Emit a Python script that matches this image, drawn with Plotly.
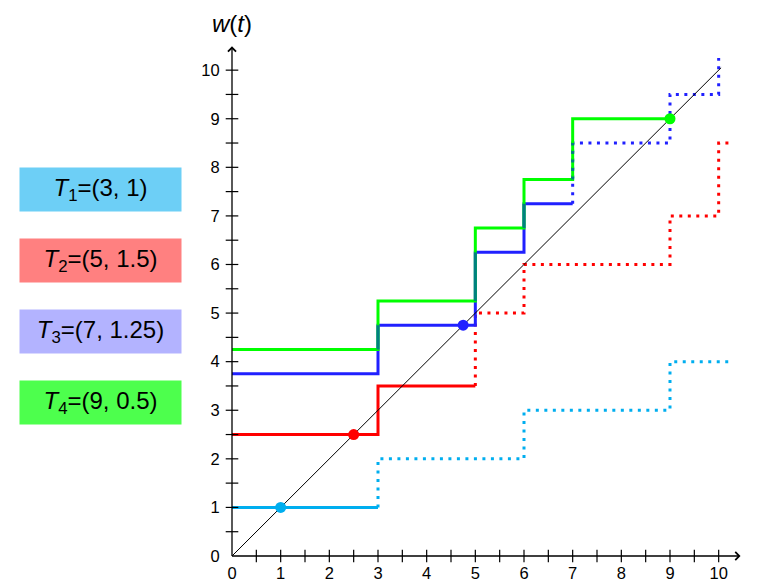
import plotly.graph_objects as go

# ---------------- data ----------------
# step functions (hv shape: level y[i] holds from x[i] to x[i+1])
t1_solid_x = [0, 3]
t1_solid_y = [1, 1]
t1_dot_x = [3, 3, 6, 9, 10.3]
t1_dot_y = [1, 2, 3, 4, 4]

t2_solid_x = [0, 3, 5]
t2_solid_y = [2.5, 3.5, 3.5]
t2_dot_x = [5, 5, 6, 9, 10, 10.3]
t2_dot_y = [3.5, 5, 6, 7, 8.5, 8.5]

t3_solid_x = [0, 3, 5, 6, 7]
t3_solid_y = [3.75, 4.75, 6.25, 7.25, 7.25]
t3_dot_x = [7, 7, 9, 10]
t3_dot_y = [7.25, 8.5, 9.5, 10.25]

t4_solid_x = [0, 3, 5, 6, 7, 9]
t4_solid_y = [4.25, 5.25, 6.75, 7.75, 9, 9]

# response-time points
pt_x = [1, 2.5, 4.75, 9]
pt_y = [1, 2.5, 4.75, 9]

diag_x = [0, 10.05]
diag_y = [0, 10.05]

legend_labels = ["<i>T</i><sub>1</sub>=(3, 1)", "<i>T</i><sub>2</sub>=(5, 1.5)",
                 "<i>T</i><sub>3</sub>=(7, 1.25)", "<i>T</i><sub>4</sub>=(9, 0.5)"]

tick_vals = list(range(0, 11))
tick_text = [str(v) for v in tick_vals]
minor_vals = [v / 2 for v in range(1, 21)]

# ---------------- styles ----------------
C1, C2, C3, C4 = "#00aeef", "#ff0000", "#2020ff", "#00ff00"
TEAL = "#008080"
BOX = ["#6dcff6", "#ff8080", "#b3b3ff", "#4dff4d"]
LW = 3
DOT = "3px,5.5px"
FONT = "Liberation Sans, Arial, sans-serif"

XMAX, YMAX = 10.5, 10.6
X_TIP, Y_TIP = 10.47, 10.51
W, H = 763, 579
L, T = 224, 33
PW, PH = 511, 515
R, B = W - L - PW, H - T - PH

fig = go.Figure()


def step(x, y, color, dash=None):
    fig.add_trace(go.Scatter(x=x, y=y, mode="lines", line_shape="hv",
                             line=dict(color=color, width=LW, dash=dash),
                             hoverinfo="skip", showlegend=False))


step(t1_solid_x, t1_solid_y, C1)
step(t1_dot_x, t1_dot_y, C1, DOT)
step(t2_solid_x, t2_solid_y, C2)
step(t2_dot_x, t2_dot_y, C2, DOT)
step(t3_solid_x, t3_solid_y, C3)
step(t3_dot_x, t3_dot_y, C3, DOT)
step(t4_solid_x, t4_solid_y, C4)


# overlap of blue & green vertical jumps -> teal
def vsegs(xs, ys):
    return [(xs[i + 1], ys[i], ys[i + 1]) for i in range(len(xs) - 1) if ys[i + 1] != ys[i]]


green_v = vsegs(t4_solid_x, t4_solid_y)
for (bx, by, dash) in [(t3_solid_x, t3_solid_y, None), (t3_dot_x, t3_dot_y, DOT)]:
    ox, oy = [], []
    for (x, a, b) in vsegs(bx, by):
        for (gx, c, d) in green_v:
            if gx == x:
                lo = max(min(a, b), min(c, d))
                hi = min(max(a, b), max(c, d))
                if hi > lo:
                    ox += [x, x, None]
                    oy += [lo, hi, None]
    if ox:
        fig.add_trace(go.Scatter(x=ox, y=oy, mode="lines",
                                 line=dict(color=TEAL, width=LW, dash=dash),
                                 hoverinfo="skip", showlegend=False))

# diagonal
fig.add_trace(go.Scatter(x=diag_x, y=diag_y, mode="lines",
                         line=dict(color="black", width=1),
                         hoverinfo="skip", showlegend=False))

# points
fig.add_trace(go.Scatter(x=pt_x, y=pt_y, mode="markers",
                         marker=dict(color=[C1, C2, C3, C4], size=11),
                         hoverinfo="skip", showlegend=False, cliponaxis=False))

# axis tick marks crossing the axes
fig.add_trace(go.Scatter(x=minor_vals, y=[0] * len(minor_vals), mode="markers",
                         marker=dict(symbol="line-ns-open", size=9, color="black",
                                     line=dict(color="black", width=1.2)),
                         hoverinfo="skip", showlegend=False, cliponaxis=False))
fig.add_trace(go.Scatter(x=[0] * len(minor_vals), y=minor_vals, mode="markers",
                         marker=dict(symbol="line-ew-open", size=9, color="black",
                                     line=dict(color="black", width=1.2)),
                         hoverinfo="skip", showlegend=False, cliponaxis=False))

annotations = []
# axis lines with arrow heads (head drawn at the tail end = axis tip)
for (tx, ty) in [(X_TIP, 0), (0, Y_TIP)]:
    annotations.append(dict(x=0, y=0, ax=tx, ay=ty, xref="x", yref="y", axref="x", ayref="y",
                            text="", showarrow=True, arrowside="start",
                            startarrowhead=4, startarrowsize=1.2, startstandoff=0,
                            arrowwidth=1.3, arrowcolor="black",
                            width=1, height=1, borderpad=0, font=dict(size=1)))
annotations.append(dict(x=X_TIP, y=0, xref="x", yref="y", text="<i>t</i>", showarrow=False,
                        xanchor="left", yanchor="middle", xshift=11, yshift=-1,
                        font=dict(family=FONT, size=23, color="black")))
annotations.append(dict(x=0, y=Y_TIP, xref="x", yref="y", text="<i>w</i>(<i>t</i>)",
                        showarrow=False, xanchor="center", yanchor="bottom", yshift=6,
                        font=dict(family=FONT, size=24, color="black")))

# legend boxes (centres in figure pixels)
for i, (lab, col) in enumerate(zip(legend_labels, BOX)):
    cx = 92.5
    cy = 181.5 + 71 * i
    annotations.append(dict(x=(cx - L) / PW, y=(T + PH - cy) / PH, xref="paper", yref="paper",
                            text=lab, showarrow=False, xanchor="center", yanchor="middle",
                            width=161, height=43, bgcolor=col, borderpad=0,
                            font=dict(family=FONT, size=24, color="black")))

axis_common = dict(showgrid=False, zeroline=False, showline=False, automargin=False,
                   tickmode="array", tickvals=tick_vals, ticktext=tick_text,
                   ticks="outside", tickcolor="rgba(0,0,0,0)",
                   tickfont=dict(family=FONT, size=16.5, color="black"), fixedrange=True)

fig.update_layout(
    width=W, height=H, template="none",
    margin=dict(l=L, r=R, t=T, b=B),
    paper_bgcolor="white", plot_bgcolor="white",
    xaxis=dict(range=[0, XMAX], ticklen=2, **axis_common),
    yaxis=dict(range=[0, YMAX], ticklen=8, **axis_common),
    annotations=annotations, showlegend=False,
)

fig.write_html("out.html")
